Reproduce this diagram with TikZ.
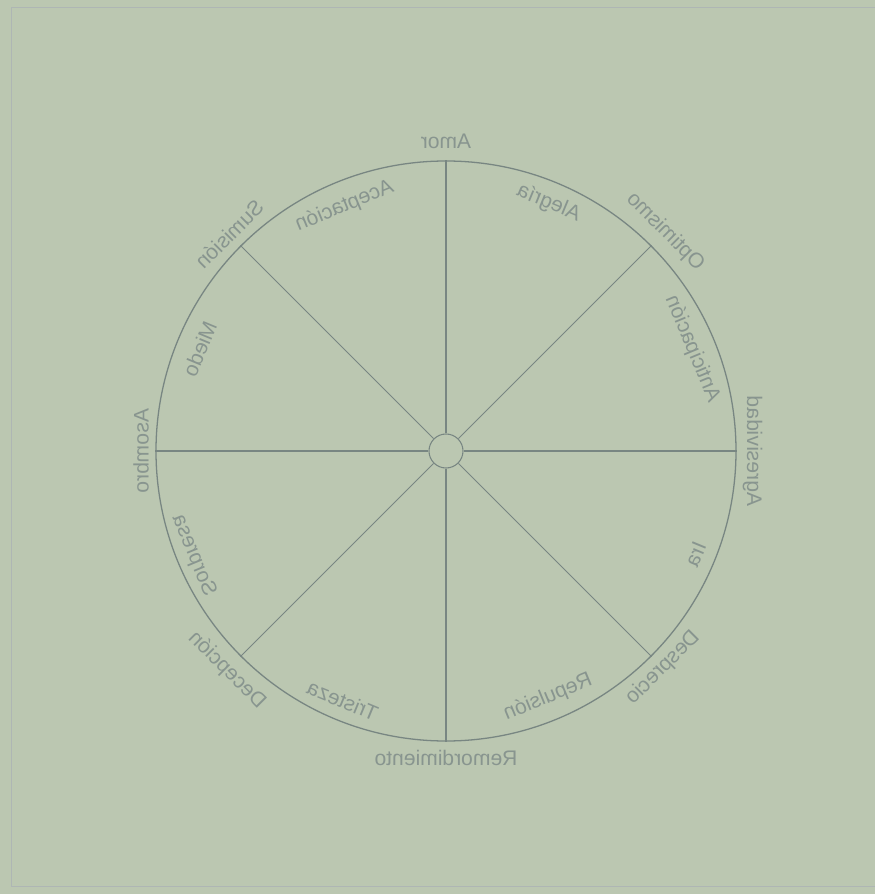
\documentclass[tikz,border=0pt]{standalone}
\usepackage{fontspec}
\setmainfont{Liberation Sans}
\definecolor{paper}{RGB}{187,199,177}
\definecolor{ink}{RGB}{120,134,130}
\definecolor{faint}{RGB}{136,149,143}

\begin{document}
\begin{tikzpicture}[
  every node/.style={font=\fontsize{18}{22}\selectfont},
  lbl/.style={text=faint, inner sep=1pt, xscale=-1},
  ring/.style={draw=ink, circle, inner sep=0pt},
  spoke/.style={draw=ink, line width=0.9pt}
]
  \fill[paper] (-13.38,-13.29) rectangle (12.87,13.53);
  \useasboundingbox (-13.38,-13.29) rectangle (12.87,13.53);
  \draw[ink!60, line width=0.7pt] (13.5,13.32) -- (-13.05,13.32) -- (-13.05,-13.05) -- (13.5,-13.05);

  \node[ring, line width=1.1pt, minimum size=17.4cm] (rim) at (0,0) {};
  \node[ring, line width=0.9pt, minimum size=1.02cm] (hub) at (0,0) {};

  \draw[spoke] (hub.90) -- (rim.90); \draw[spoke] (hub.45) -- (rim.45);
  \draw[spoke] (hub.0) -- (rim.0); \draw[spoke] (hub.-45) -- (rim.-45);
  \draw[spoke] (hub.-90) -- (rim.-90); \draw[spoke] (hub.-135) -- (rim.-135);
  \draw[spoke] (hub.180) -- (rim.180); \draw[spoke] (hub.135) -- (rim.135);

  % outer ring of words
  \node[lbl, rotate=0] (amor) at (90:9.3) {Amor};
  \node[lbl, rotate=45] (optimismo) at (45:9.3) {Optimismo};
  \node[lbl, rotate=90] (agresividad) at (0:9.2) {Agresividad};
  \node[lbl, rotate=-45] (desprecio) at (-45:9.2) {Desprecio};
  \node[lbl, rotate=0] (remordimiento) at (-90:9.2) {Remordimiento};
  \node[lbl, rotate=45] (decepcion) at (-135:9.3) {Decepción};
  \node[lbl, rotate=-90] (asombro) at (180:9.15) {Asombro};
  \node[lbl, rotate=-45] (sumision) at (135:9.2) {Sumisión};

  % inner ring of words
  \node[lbl, rotate=22.5] (alegria) at (67.5:8.05) {Alegría};
  \node[lbl, rotate=67.5] (anticipacion) at (22.5:8.0) {Anticipación};
  \node[lbl, rotate=-67.5] (ira) at (-22.5:8.1) {Ira};
  \node[lbl, rotate=-22.5] (repulsion) at (-67.5:8.0) {Repulsión};
  \node[lbl, rotate=22.5] (tristeza) at (-112.5:8.1) {Tristeza};
  \node[lbl, rotate=67.5] (sorpresa) at (-157.5:8.2) {Sorpresa};
  \node[lbl, rotate=-67.5] (miedo) at (157.5:8.0) {Miedo};
  \node[lbl, rotate=-22.5] (aceptacion) at (112.5:7.95) {Aceptación};
\end{tikzpicture}
\end{document}
